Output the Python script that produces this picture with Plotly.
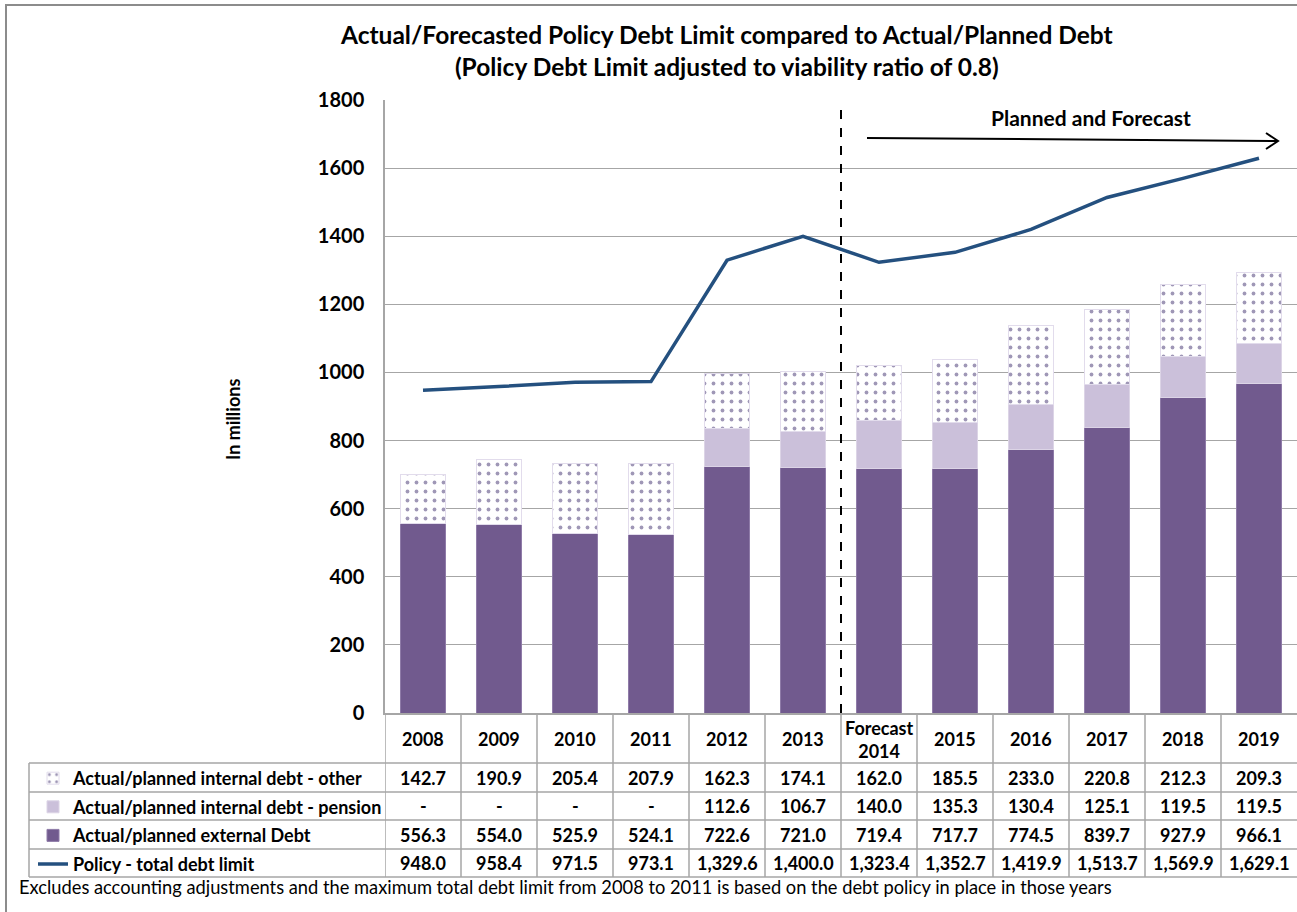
import plotly.graph_objects as go

years = ["2008", "2009", "2010", "2011", "2012", "2013", "2014",
         "2015", "2016", "2017", "2018", "2019"]
year_labels = ["2008", "2009", "2010", "2011", "2012", "2013", "Forecast<br>2014",
               "2015", "2016", "2017", "2018", "2019"]
internal_other = [142.7, 190.9, 205.4, 207.9, 162.3, 174.1, 162.0, 185.5, 233.0, 220.8, 212.3, 209.3]
internal_pension = [None, None, None, None, 112.6, 106.7, 140.0, 135.3, 130.4, 125.1, 119.5, 119.5]
external_debt = [556.3, 554.0, 525.9, 524.1, 722.6, 721.0, 719.4, 717.7, 774.5, 839.7, 927.9, 966.1]
policy_limit = [948.0, 958.4, 971.5, 973.1, 1329.6, 1400.0, 1323.4, 1352.7, 1419.9, 1513.7, 1569.9, 1629.1]

series_names = ["Actual/planned internal debt - other",
                "Actual/planned internal debt - pension",
                "Actual/planned external Debt",
                "Policy - total debt limit"]

W, H = 1297, 912
L, R, T, B = 385, 1297, 100, 713


def px_x(p):
    return (p - L) / (R - L)


def px_y(p):
    return (B - p) / (B - T)


FONT = "Lato"
GRID = "#A6A6A6"
C_EXT = "#715A8E"
C_PEN = "#CBC0DA"
C_LINE = "#24507F"
TXT = 18

fig = go.Figure()
fig.add_trace(go.Bar(x=years, y=external_debt, name=series_names[2], legendrank=3, legendgroup="c",
                     marker=dict(color=C_EXT, line=dict(color="#8F7BA8", width=1))))
fig.add_trace(go.Bar(x=years, y=internal_pension, name=series_names[1], legendrank=2, legendgroup="b",
                     marker=dict(color=C_PEN, line=dict(color="#DCD4E6", width=1))))
fig.add_trace(go.Bar(x=years, y=internal_other, name=series_names[0], legendrank=1, legendgroup="a",
                     marker=dict(color="white", line=dict(color="#E2DCEC", width=1),
                                 pattern=dict(shape=".", fgcolor="#3F2F6E", bgcolor="white",
                                              size=9, solidity=0.14))))
fig.add_trace(go.Scatter(x=years, y=policy_limit, name=series_names[3], legendrank=4, legendgroup="d",
                         mode="lines", line=dict(color=C_LINE, width=3.5)))

shapes = []
annotations = []

# title
annotations.append(dict(text="<b>Actual/Forecasted Policy Debt Limit compared to Actual/Planned Debt<br>"
                             "(Policy Debt Limit adjusted to viability ratio of 0.8)</b>",
                        xref="paper", yref="paper", x=px_x(726), y=px_y(51),
                        xanchor="center", yanchor="middle", showarrow=False,
                        font=dict(size=24.5, color="black", family=FONT)))

# forecast divider + arrow
shapes.append(dict(type="line", xref="x", yref="paper", x0=5.5, x1=5.5,
                   y0=0, y1=px_y(107), line=dict(color="black", width=2, dash="dash")))
ax0, ay0, ax1, ay1 = px_x(867), px_y(138), px_x(1278), px_y(141)
shapes.append(dict(type="path", xref="paper", yref="paper",
                   path=f"M {ax0},{ay0} L {ax1},{ay1} M {px_x(1266)},{px_y(133)} L {ax1},{ay1} L {px_x(1266)},{px_y(149)}",
                   line=dict(color="black", width=2)))
annotations.append(dict(text="<b>Planned and Forecast</b>", xref="paper", yref="paper",
                        x=px_x(1091), y=px_y(118), xanchor="center", yanchor="middle", showarrow=False,
                        font=dict(size=21, color="black", family=FONT)))

# y axis title
annotations.append(dict(text="<b>In millions</b>", xref="paper", yref="paper",
                        x=px_x(233), y=px_y(420), xanchor="center", yanchor="middle",
                        textangle=-90, showarrow=False,
                        font=dict(size=18, color="black", family=FONT)))

# data table grid
row_lines = [763, 792, 820, 849, 877]
for i in range(len(years)):
    shapes.append(dict(type="line", xref="x", yref="paper", x0=i - 0.5, x1=i - 0.5,
                       y0=px_y(713), y1=px_y(877), line=dict(color=GRID, width=1.5)))
shapes.append(dict(type="line", xref="paper", yref="paper", x0=px_x(29), x1=px_x(29),
                   y0=px_y(763), y1=px_y(877), line=dict(color=GRID, width=1.5)))
for r in row_lines:
    shapes.append(dict(type="line", xref="paper", yref="paper", x0=px_x(29), x1=1,
                       y0=px_y(r), y1=px_y(r), line=dict(color=GRID, width=1.5)))

# header row
for i, lab in enumerate(year_labels):
    annotations.append(dict(text=f"<b>{lab}</b>", xref="x", yref="paper", x=i, y=px_y(739),
                            xanchor="center", yanchor="middle", showarrow=False,
                            font=dict(size=TXT, color="black", family=FONT)))


def fmt(v):
    return "-" if v is None else f"{v:,.1f}"


table_rows = [internal_other, internal_pension, external_debt, policy_limit]
for k, vals in enumerate(table_rows):
    yc = (row_lines[k] + row_lines[k + 1]) / 2
    for i, v in enumerate(vals):
        annotations.append(dict(text=f"<b>{fmt(v)}</b>", xref="x", yref="paper", x=i, y=px_y(yc),
                                xanchor="center", yanchor="middle", showarrow=False,
                                font=dict(size=TXT, color="black", family=FONT)))

# footnote
annotations.append(dict(text="Excludes accounting adjustments and the maximum total debt limit from 2008 to 2011 "
                             "is based on the debt policy in place in those years",
                        xref="paper", yref="paper", x=px_x(17), y=px_y(887), xanchor="left", yanchor="middle",
                        showarrow=False, font=dict(size=18.3, color="black", family=FONT)))

# outer chart border
shapes.append(dict(type="rect", xref="paper", yref="paper", x0=px_x(6), x1=1.02,
                   y0=-0.4, y1=px_y(5), line=dict(color="#8C8C8C", width=2)))

fig.update_layout(
    width=W, height=H,
    margin=dict(l=L, r=W - R, t=T, b=H - B),
    paper_bgcolor="white", plot_bgcolor="white",
    barmode="stack", bargap=0.42,
    font=dict(family=FONT, color="black"),
    xaxis=dict(type="category", showticklabels=False, showgrid=False, showline=True, linecolor=GRID,
               linewidth=1.5, ticks="", range=[-0.5, 11.5]),
    yaxis=dict(range=[0, 1800], dtick=200, showgrid=True, gridcolor=GRID, gridwidth=1.3,
               showline=True, linecolor=GRID, linewidth=1.5, zeroline=False, ticks="",
               ticklabelstandoff=15,
               tickfont=dict(size=20, weight="bold", family=FONT, color="black")),
    legend=dict(x=px_x(33), y=px_y(760), xanchor="left", yanchor="top", bgcolor="rgba(0,0,0,0)",
                traceorder="grouped", font=dict(size=TXT, weight="bold", family=FONT, color="black"),
                tracegroupgap=2.2, itemwidth=30),
    shapes=shapes, annotations=annotations,
)

fig.write_html("out.html", config={"displayModeBar": False},
               post_script="document.body.style.margin='0px';")
